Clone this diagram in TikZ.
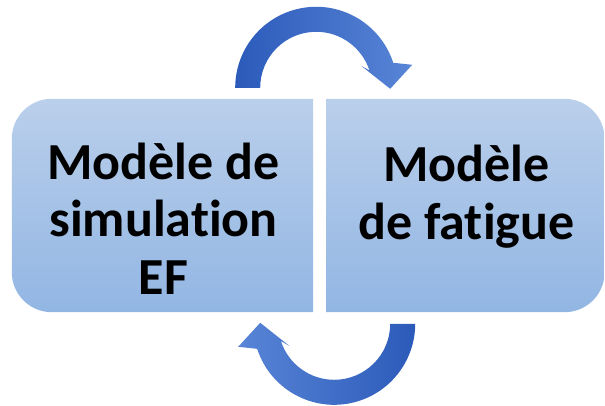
\documentclass[tikz,border=0pt]{standalone}
\usepackage{fontspec}
\setmainfont{Carlito}[Ligatures=NoCommon]
\usetikzlibrary{positioning,calc,backgrounds}

\definecolor{boxtop}{RGB}{186,207,235}
\definecolor{boxbot}{RGB}{146,182,227}
\definecolor{arrowdark}{RGB}{44,90,186}
\definecolor{arrowlight}{RGB}{88,133,214}

% curved block arrow, drawn round its own centre
\newcommand{\arrowpath}{(-56,0) arc[start angle=180,end angle=18,radius=56]
  -- (45,22) -- (74,-1) -- (96,23) -- (18:81)
  arc[start angle=18,end angle=180,radius=81] -- cycle}

\begin{document}
\begin{tikzpicture}[x=1pt,y=1pt,
    box/.style={minimum width=301pt,minimum height=213pt,inner sep=0pt},
    boxtext/.style={align=center,font=\bfseries\fontsize{52}{57.5}\selectfont},
    boxfill/.style={top color=boxtop,bottom color=boxbot}]
  \useasboundingbox (0,0) rectangle (605,406);

  %Boxes
  \node[box] (sim) at (162.5,200.5) {};
  \node[box,minimum width=278pt,right=13pt of sim] (fat) {};
  \node[boxtext] (simtxt) at ([xshift=1pt,yshift=-13pt]sim.center) {Modèle de\\simulation\\EF};
  \node[boxtext] (fattxt) at ([xshift=1pt,yshift=9pt]fat.center) {Modèle\\de fatigue};

  % rounded on the outer side only
  \begin{scope}[on background layer]
    \begin{scope}
      \clip (sim.south west) rectangle (sim.north east);
      \shade[boxfill,rounded corners=40pt] (sim.south west) rectangle ([xshift=60pt]sim.north east);
    \end{scope}
    \begin{scope}
      \clip (fat.south west) rectangle (fat.north east);
      \shade[boxfill,rounded corners=40pt] ([xshift=-60pt]fat.south west) rectangle (fat.north east);
    \end{scope}
  \end{scope}

  %Arrows
  \coordinate (gap) at ($(sim.north east)!0.5!(fat.north west)$);
  \coordinate (topc) at ([xshift=-3.5pt,yshift=11pt]gap);
  \coordinate (botc) at ([xshift=14.5pt,yshift=-225pt]gap);

  \begin{scope}[shift={(topc)}]
    \shade[left color=arrowdark,right color=arrowlight] \arrowpath;
  \end{scope}
  \begin{scope}[shift={(botc)},rotate=180]
    \shade[left color=arrowlight,right color=arrowdark] \arrowpath;
  \end{scope}
\end{tikzpicture}
\end{document}
